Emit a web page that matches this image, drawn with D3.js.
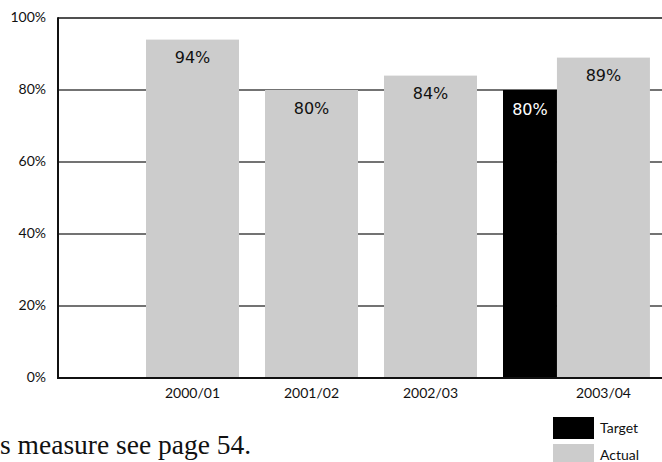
<!DOCTYPE html>
<html>
<head>
<meta charset="utf-8">
<script src="https://cdn.jsdelivr.net/npm/d3@7"></script>
<style>
  html, body { margin: 0; padding: 0; background: #fff; }
  svg { display: block; }
</style>
</head>
<body>
<svg id="chart" width="662" height="462"></svg>
<script>
// Performance against target, per year
const categories = ["2000/01", "2001/02", "2002/03", "2003/04"];
const actualValues = [94, 80, 84, 89];
const targetValues = [null, null, null, 80];
const yTicks = [0, 20, 40, 60, 80, 100];
const legendLabels = ["Target", "Actual"];
const footnote = "s measure see page 54.";

const svg = d3.select("#chart");
const plotLeft = 58, plotRight = 662, plotTop = 18, plotBottom = 378;

const x = d3.scaleBand()
  .domain(categories)
  .range([146, 596])
  .paddingInner(0.2185)
  .paddingOuter(0);

const y = d3.scaleLinear().domain([0, 100]).range([plotBottom, plotTop]);

// a target bar sits to the left of the actual bar in the same year
const targetWidth = x.bandwidth() * 0.58;
const actualX = (d, i) => x(categories[i]) + (targetValues[i] != null ? targetWidth : 0);

const tickFont = "Lato, 'Open Sans', sans-serif";
const valueFont = "'DejaVu Sans', Verdana, sans-serif";

// horizontal gridlines
svg.append("g")
  .selectAll("line")
  .data(yTicks.filter(t => t > 0))
  .join("line")
  .attr("x1", plotLeft).attr("x2", plotRight)
  .attr("y1", d => y(d)).attr("y2", d => y(d))
  .attr("stroke", "#444").attr("stroke-width", 1.5);

// y-axis tick labels
svg.append("g")
  .selectAll("text")
  .data(yTicks)
  .join("text")
  .attr("x", 46)
  .attr("y", d => y(d) + 4)
  .attr("text-anchor", "end")
  .attr("font-family", tickFont)
  .attr("font-size", 14)
  .attr("fill", "#111")
  .text(d => d + "%");

// actual bars
svg.append("g")
  .selectAll("rect")
  .data(actualValues)
  .join("rect")
  .attr("x", actualX)
  .attr("y", d => y(d))
  .attr("width", x.bandwidth())
  .attr("height", d => y(0) - y(d))
  .attr("fill", "#cccccc");

// target bars
const targets = targetValues.map((v, i) => ({ v, i })).filter(d => d.v != null);
svg.append("g")
  .selectAll("rect")
  .data(targets)
  .join("rect")
  .attr("x", d => x(categories[d.i]))
  .attr("y", d => y(d.v))
  .attr("width", targetWidth)
  .attr("height", d => y(0) - y(d.v))
  .attr("fill", "#000");

// value labels
svg.append("g")
  .selectAll("text")
  .data(actualValues)
  .join("text")
  .attr("x", (d, i) => actualX(d, i) + x.bandwidth() / 2)
  .attr("y", d => y(d) + 23.5)
  .attr("text-anchor", "middle")
  .attr("font-family", valueFont)
  .attr("font-size", 16)
  .attr("fill", "#111")
  .text(d => d + "%");

svg.append("g")
  .selectAll("text")
  .data(targets)
  .join("text")
  .attr("x", d => x(categories[d.i]) + targetWidth / 2)
  .attr("y", d => y(d.v) + 25)
  .attr("text-anchor", "middle")
  .attr("font-family", valueFont)
  .attr("font-size", 16)
  .attr("fill", "#fff")
  .text(d => d.v + "%");

// axis lines
svg.append("line")
  .attr("x1", plotLeft).attr("x2", plotRight)
  .attr("y1", plotTop).attr("y2", plotTop)
  .attr("stroke", "#444").attr("stroke-width", 1.5);
svg.append("line")
  .attr("x1", plotLeft).attr("x2", plotLeft)
  .attr("y1", plotTop - 0.75).attr("y2", plotBottom + 1)
  .attr("stroke", "#111").attr("stroke-width", 2);
svg.append("line")
  .attr("x1", plotLeft).attr("x2", plotRight)
  .attr("y1", plotBottom).attr("y2", plotBottom)
  .attr("stroke", "#111").attr("stroke-width", 2);

// category labels
svg.append("g")
  .selectAll("text")
  .data(categories)
  .join("text")
  .attr("x", (d, i) => actualX(null, i) + x.bandwidth() / 2)
  .attr("y", 398)
  .attr("text-anchor", "middle")
  .attr("font-family", tickFont)
  .attr("font-size", 14)
  .attr("fill", "#111")
  .text(d => d);

// legend
const legendColors = ["#000", "#cccccc"];
const legend = svg.append("g");
legendLabels.forEach((lab, i) => {
  legend.append("rect")
    .attr("x", 553).attr("y", 417 + i * 27)
    .attr("width", 41).attr("height", 22)
    .attr("fill", legendColors[i]);
  legend.append("text")
    .attr("x", 600).attr("y", 433 + i * 26.5)
    .attr("font-family", tickFont)
    .attr("font-size", 14)
    .attr("fill", "#111")
    .text(lab);
});

// footnote
svg.append("text")
  .attr("x", 0).attr("y", 454)
  .attr("font-family", "'Liberation Serif', 'Times New Roman', serif")
  .attr("font-size", 27.5)
  .attr("fill", "#111")
  .text(footnote);
</script>
</body>
</html>
